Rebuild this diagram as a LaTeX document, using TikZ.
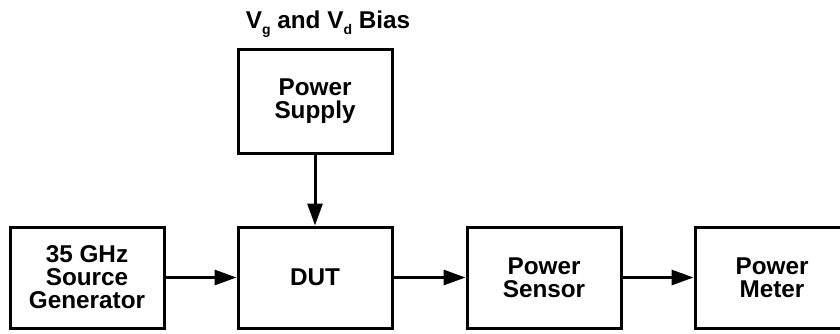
\documentclass[tikz,border=0pt]{standalone}
\usepackage{fontspec}
\setmainfont{Liberation Sans}
\usepackage{tikz}
\usetikzlibrary{arrows.meta,positioning}
\newcommand{\biassub}[1]{\raisebox{-6pt}{\fontsize{14}{14}\selectfont #1}}
\tikzset{
  blockbox/.style={draw=black, line width=3pt, fill=white, align=center, minimum width=154pt, minimum height=101pt, inner sep=2pt, font=\fontsize{24.3}{23}\selectfont\bfseries},
  biaslabel/.style={font=\fontsize{24.3}{23}\selectfont\bfseries, inner sep=0pt},
  flowarrow/.style={-{Triangle[length=22pt,width=15pt]}, line width=3pt, draw=black}
}

\begin{document}
\begin{tikzpicture}[x=1pt,y=-1pt]

  % frame
  \useasboundingbox (0,0) rectangle (840,333);
  \clip (0,0) rectangle (840,333);

  % nodes
  \node[blockbox] (src) at (87,277.5) {35 GHz\\Source\\Generator};
  \node[blockbox] (dut) at (315,277.5) {DUT};
  \node[blockbox, minimum height=104pt] (psu) at (315,101) {Power\\Supply};
  \node[blockbox] (sensor) at (544,277.5) {Power\\Sensor};
  \node[blockbox] (meter) at (772,277.5) {Power\\Meter};

  % bias label
  \node[biaslabel, anchor=base] (bias) at (328,28) {V\biassub{g} and V\biassub{d} Bias};

  % arrows
  \draw[flowarrow] (psu.south) -- (dut.north);
  \draw[flowarrow] (src.east) -- (dut.west);
  \draw[flowarrow] (dut.east) -- (sensor.west);
  \draw[flowarrow] (sensor.east) -- (meter.west);

\end{tikzpicture}
\end{document}
